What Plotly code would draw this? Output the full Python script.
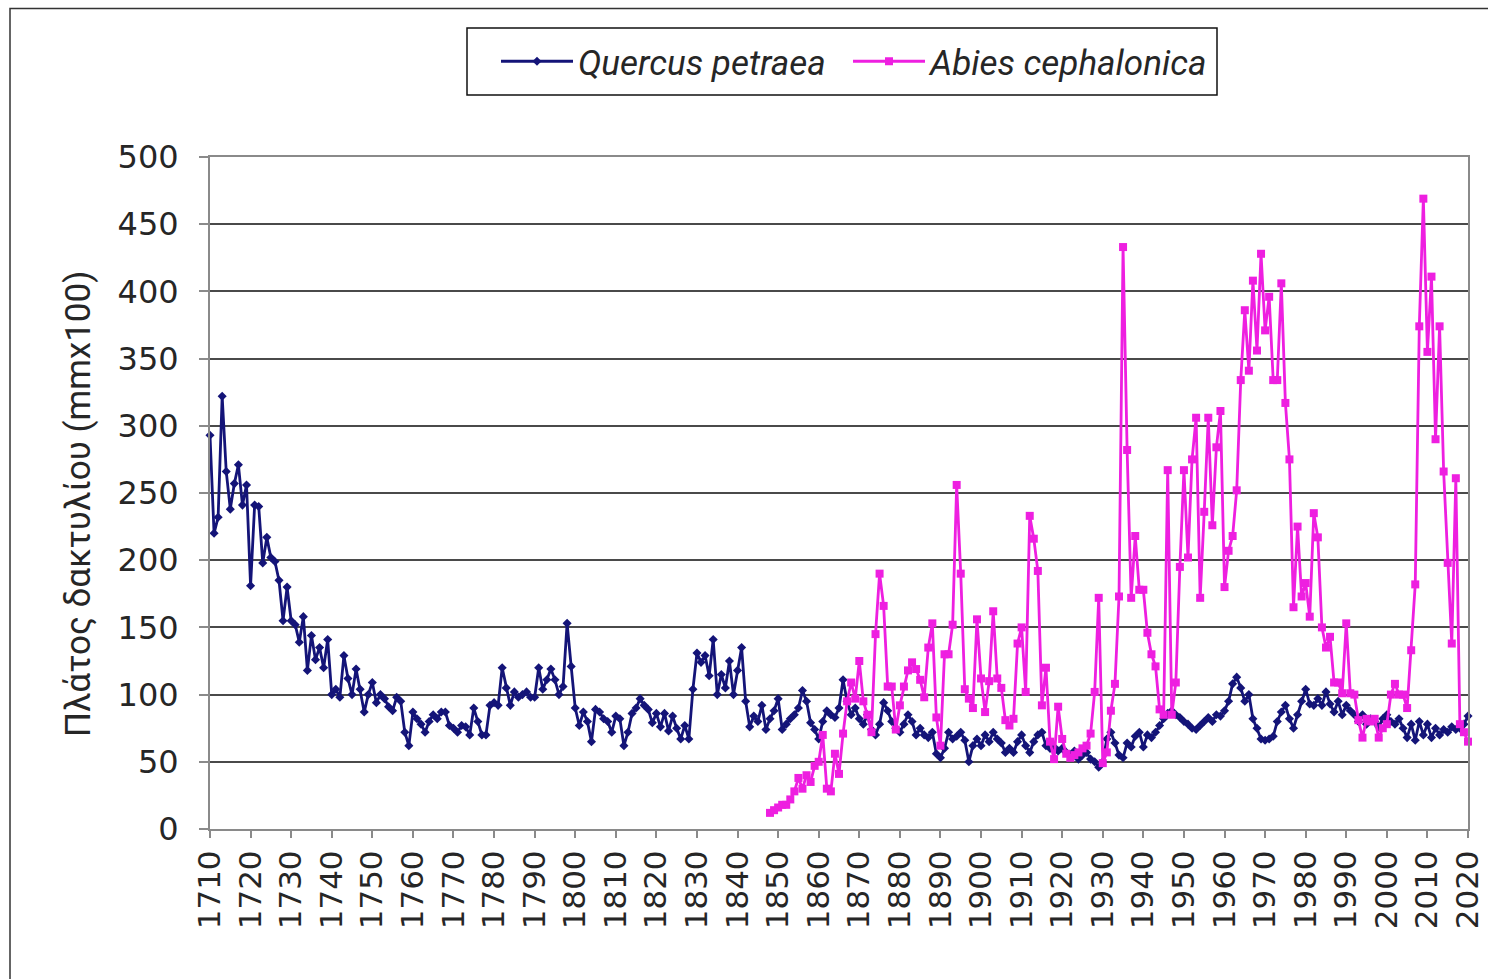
import plotly.graph_objects as go

# ---- data ----
quercus_start = 1710
quercus_values = [
    293, 220, 232, 322, 266, 238, 257, 271, 241, 256,
    181, 241, 240, 198, 217, 202, 199, 185, 155, 180,
    155, 152, 139, 158, 118, 144, 126, 135, 120, 141,
    100, 104, 98, 129, 112, 100, 119, 104, 87, 100,
    109, 94, 100, 97, 91, 88, 98, 95, 72, 62,
    87, 82, 78, 72, 80, 85, 82, 87, 87, 77,
    75, 72, 77, 76, 70, 90, 80, 70, 70, 92,
    94, 92, 120, 105, 92, 102, 98, 100, 102, 98,
    98, 120, 104, 111, 119, 111, 100, 106, 153, 121,
    90, 77, 87, 80, 65, 89, 87, 82, 80, 72,
    84, 82, 62, 72, 86, 90, 97, 92, 89, 79,
    86, 76, 86, 73, 84, 75, 67, 77, 67, 104,
    131, 124, 129, 114, 141, 100, 115, 105, 125, 100,
    118, 135, 95, 76, 84, 80, 92, 74, 82, 88,
    97, 74, 78, 82, 85, 90, 103, 95, 79, 74,
    67, 80, 88, 85, 83, 90, 111, 95, 85, 90,
    82, 78, 85, 74, 70, 78, 94, 88, 80, 75,
    72, 78, 85, 80, 70, 75, 70, 68, 72, 56,
    53, 60, 72, 67, 69, 72, 66, 50, 62, 67,
    62, 70, 65, 72, 67, 64, 57, 60, 57, 65,
    70, 62, 57, 65, 70, 72, 62, 60, 61, 58,
    60, 57, 55, 58, 52, 55, 57, 52, 50, 46,
    50, 67, 72, 64, 55, 53, 64, 61, 69, 72,
    61, 70, 68, 72, 77, 82, 86, 88, 85, 83,
    80, 78, 75, 74, 77, 80, 83, 80, 85, 84,
    88, 95, 108, 113, 105, 95, 100, 82, 75, 67,
    66, 67, 69, 80, 87, 92, 82, 75, 85, 95,
    104, 93, 92, 97, 92, 102, 93, 87, 95, 85,
    92, 88, 85, 80, 85, 78, 82, 80, 76, 82,
    85, 80, 78, 82, 75, 68, 78, 66, 80, 70,
    78, 68, 75, 70, 74, 72, 76, 74, 75, 78,
    84,
]

abies_start = 1848
abies_values = [
    12, 14, 16, 18, 18, 22, 28, 38, 30, 40,
    35, 47, 50, 70, 30, 28, 56, 41, 71, 95,
    109, 97, 125, 95, 85, 72, 145, 190, 166, 106,
    106, 74, 92, 106, 118, 124, 119, 111, 98, 135,
    153, 83, 62, 130, 130, 152, 256, 190, 104, 97,
    90, 156, 112, 87, 110, 162, 112, 105, 81, 77,
    82, 138, 150, 102, 233, 216, 192, 92, 120, 65,
    52, 91, 67, 56, 53, 55, 57, 60, 62, 71,
    102, 172, 49, 57, 88, 108, 173, 433, 282, 172,
    218, 178, 178, 146, 130, 121, 89, 85, 267, 85,
    109, 195, 267, 202, 275, 306, 172, 236, 306, 226,
    284, 311, 180, 207, 218, 252, 334, 386, 341, 408,
    356, 428, 371, 396, 334, 334, 406, 317, 275, 165,
    225, 173, 183, 158, 235, 217, 150, 135, 143, 109,
    109, 101, 153, 101, 100, 81, 68, 82, 80, 82,
    68, 75, 78, 100, 108, 100, 100, 90, 133, 182,
    374, 469, 355, 411, 290, 374, 266, 198, 138, 261,
    78, 72, 65,
]

quercus_years = [quercus_start + i for i in range(len(quercus_values))]
abies_years = [abies_start + i for i in range(len(abies_values))]

x_ticks = list(range(1710, 2021, 10))
y_ticks = list(range(0, 501, 50))

series_names = ["Quercus petraea", "Abies cephalonica"]
y_title = "Πλάτος δακτυλίου (mmx100)"

NAVY = "#141478"
MAGENTA = "#ee1fe0"
GRID = "#4a4a4a"
AXIS = "#8a8a8a"
TXT = "#262626"

fig = go.Figure()
fig.add_trace(go.Scatter(
    x=quercus_years, y=quercus_values, mode="lines+markers",
    name="<i>" + series_names[0] + "</i>",
    line=dict(color=NAVY, width=2.8),
    marker=dict(symbol="diamond", size=7, color=NAVY),
    cliponaxis=False, legendwidth=265,
))
fig.add_trace(go.Scatter(
    x=abies_years, y=abies_values, mode="lines+markers",
    name="<i>" + series_names[1] + "</i>",
    line=dict(color=MAGENTA, width=2.8),
    marker=dict(symbol="square", size=8, color=MAGENTA),
    cliponaxis=False, legendwidth=280,
))

# body margin is removed by post_script, so figure pixels == screen pixels
W, H = 1488, 979
L, R, T, B = 210, W - 1468, 157, H - 829
pw, ph = W - L - R, H - T - B

def px_x(sx):
    return (sx - L) / pw

def px_y(sy):
    return (H - B - sy) / ph

fig.update_layout(
    width=W, height=H,
    margin=dict(l=L, r=R, t=T, b=B, autoexpand=False),
    paper_bgcolor="white", plot_bgcolor="white",
    font=dict(family="DejaVu Sans", color=TXT),
    showlegend=True,
    legend=dict(
        orientation="h", x=px_x(496), xanchor="left",
        y=px_y(61.5), yanchor="middle",
        borderwidth=0, bgcolor="rgba(0,0,0,0)",
        font=dict(family="Roboto", size=35, color=TXT),
        itemwidth=72,
    ),
    xaxis=dict(
        range=[1710, 2020], tickmode="array", tickvals=x_ticks,
        ticktext=[str(v) for v in x_ticks], tickangle=-90,
        ticklabeloverflow="allow", automargin=False,
        showgrid=False, zeroline=False,
        showline=True, linecolor=AXIS, linewidth=2, mirror=True,
        ticks="outside", ticklen=7, tickcolor=AXIS, tickwidth=2,
        tickfont=dict(family="DejaVu Sans", size=31, color=TXT),
    ),
    yaxis=dict(
        range=[0, 500], tickmode="array", tickvals=y_ticks,
        automargin=False,
        showgrid=True, gridcolor=GRID, gridwidth=1.6, zeroline=False,
        showline=True, linecolor=AXIS, linewidth=2, mirror=True,
        ticks="outside", ticklen=9, tickcolor=AXIS, tickwidth=2,
        ticklabelstandoff=14,
        tickfont=dict(family="DejaVu Sans", size=32, color=TXT),
    ),
    annotations=[dict(
        text=y_title, textangle=-90, showarrow=False,
        xref="paper", yref="paper", x=px_x(78), y=px_y(504),
        xanchor="center", yanchor="middle",
        font=dict(family="Roboto", size=35, color=TXT),
    )],
    shapes=[
        dict(
            type="rect", xref="paper", yref="paper",
            x0=px_x(10), x1=px_x(1500), y0=px_y(1000), y1=px_y(8.5),
            line=dict(color="#333333", width=1.5), fillcolor="rgba(0,0,0,0)",
            layer="above",
        ),
        dict(
            type="rect", xref="paper", yref="paper",
            x0=px_x(467), x1=px_x(1217), y0=px_y(95), y1=px_y(28),
            line=dict(color="#111111", width=1.5), fillcolor="white",
            layer="above",
        ),
    ],
)

fig.write_html(
    "out.html",
    config={"displayModeBar": False},
    post_script="document.body.style.margin='0';document.body.style.overflow='hidden';",
)
